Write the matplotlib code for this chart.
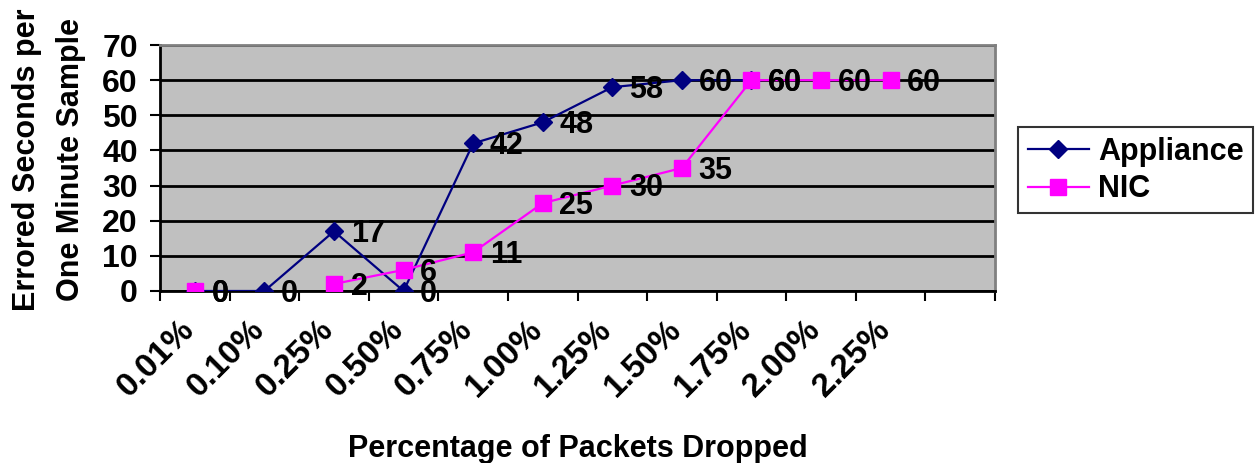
import numpy as np
import matplotlib
matplotlib.use("Agg")
import matplotlib.pyplot as plt
from matplotlib.transforms import ScaledTranslation

# Errored seconds per one-minute sample, by packet-drop rate
drop_rates = ["0.01%", "0.10%", "0.25%", "0.50%", "0.75%", "1.00%",
              "1.25%", "1.50%", "1.75%", "2.00%", "2.25%", ""]
appliance = [0, 0, 17, 0, 42, 48, 58, 60, 60, None, None, None]
nic = [0, None, 2, 6, 11, 25, 30, 35, 60, 60, 60, None]

plt.rcParams['font.family'] = ['Liberation Sans', 'DejaVu Sans']
plt.rcParams['font.weight'] = 'bold'
FS = 22

fig = plt.figure(figsize=(12.59, 4.63), dpi=100)
ax = fig.add_axes([0.1271, 0.3715, 0.6632, 0.5313])
ax.set_facecolor('#C0C0C0')

x = np.arange(len(drop_rates)) + 0.5


def to_arr(vals):
    return np.array([np.nan if v is None else v for v in vals], dtype=float)


app = to_arr(appliance)
nc = to_arr(nic)

ax.plot(x, app, color='#000080', lw=1.6, marker='D', ms=9.5,
        mfc='#000080', mec='#000080', label='Appliance', zorder=3)
ax.plot(x, nc, color='#FF00FF', lw=1.6, marker='s', ms=11,
        mfc='#FF00FF', mec='#FF00FF', label='NIC', zorder=4)

# value labels to the right of each point
for series in (app, nc):
    for xi, v in zip(x, series):
        if np.isnan(v):
            continue
        ax.annotate(f"{int(v)}", (xi, v), xytext=(12, -2),
                    textcoords='offset points', ha='left', va='center',
                    fontsize=22, fontweight='bold', color='black', zorder=5)

ax.set_xlim(0, len(drop_rates))
ax.set_ylim(0, 70)
ax.set_yticks(range(0, 71, 10))
ax.yaxis.grid(True, color='black', lw=2)
ax.set_axisbelow(True)

ax.set_xticks(range(0, len(drop_rates) + 1))
ax.set_xticklabels([])
ax.set_xticks(x, minor=True)
ax.set_xticklabels(drop_rates, minor=True, rotation=45, ha='right',
                   va='top', rotation_mode='anchor', fontsize=24,
                   fontweight='bold')
ax.tick_params(axis='x', which='minor', length=0, pad=24)
ax.tick_params(axis='x', which='major', length=7, width=1.5)
ax.tick_params(axis='y', length=7, width=1.5, labelsize=23, pad=9)
for t in ax.get_yticklabels():
    t.set_fontweight('bold')

# nudge the slanted category labels so they end just left of each slot centre
shift = ScaledTranslation(-0.16, 0.10, fig.dpi_scale_trans)
for t in ax.get_xticklabels(minor=True):
    t.set_transform(t.get_transform() + shift)

for side in ('top', 'right'):
    ax.spines[side].set_color('#808080')
    ax.spines[side].set_linewidth(2)
for side in ('left', 'bottom'):
    ax.spines[side].set_color('black')
    ax.spines[side].set_linewidth(2)

ax.set_xlabel("Percentage of Packets Dropped", fontsize=FS,
              fontweight='bold', labelpad=22)
fig.text(0.039, 0.655, "Errored Seconds per\nOne Minute Sample",
         rotation=90, ha='center', va='center', fontsize=FS,
         fontweight='bold', linespacing=1.6)

leg = ax.legend(loc='center left', bbox_to_anchor=(1.028, 0.49),
                fontsize=FS, frameon=True, fancybox=False,
                handlelength=2.0, borderpad=0.3, labelspacing=0.25,
                handletextpad=0.3, borderaxespad=0)
leg.get_frame().set_edgecolor('black')
leg.get_frame().set_linewidth(1.5)
for t in leg.get_texts():
    t.set_fontweight('bold')

fig.savefig("out.png", dpi=100)
